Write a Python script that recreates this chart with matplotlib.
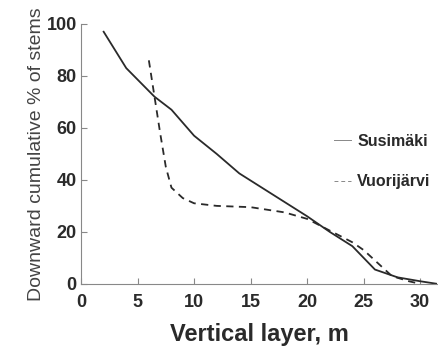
import numpy as np
import matplotlib.pyplot as plt

plt.rcParams['font.family'] = ['Liberation Sans', 'DejaVu Sans']

# Susimäki (solid)
sus_x = [2, 4, 6.5, 8, 10, 12, 14, 16, 18, 20, 22, 24, 26, 28, 30, 31.5]
sus_y = [97, 83, 72, 67, 57, 50, 42.5, 37, 31.5, 26, 20, 14.5, 5.5, 2.5, 1, 0]

# Vuorijärvi (dashed)
vuo_x = [6, 6.5, 7, 7.5, 8, 9, 10, 12, 15, 18, 20, 22, 24, 25, 26, 27.5, 29, 30]
vuo_y = [86, 72, 58, 45, 37, 33, 31, 30, 29.5, 27.5, 25, 20.5, 16, 13, 9, 3, 1, 0]

ink = '#2a2a2a'
fig = plt.figure(figsize=(4.38, 3.47), dpi=100)
ax = fig.add_axes([0.185, 0.182, 0.813, 0.749])

ax.plot(sus_x, sus_y, color=ink, lw=1.3, label='Susimäki')
ax.plot(vuo_x, vuo_y, color=ink, lw=1.3, ls=(0, (4, 3)), label='Vuorijärvi')

ax.set_xlim(0, 31.5)
ax.set_ylim(0, 100)
ax.set_xticks([0, 5, 10, 15, 20, 25, 30])
ax.set_yticks([0, 20, 40, 60, 80, 100])
ax.tick_params(direction='in', length=4, width=0.8, color='#888888',
               labelsize=13, labelcolor=ink)
ax.tick_params(axis='x', pad=7)
ax.tick_params(axis='y', pad=3)
for lab in ax.get_xticklabels() + ax.get_yticklabels():
    lab.set_fontweight('bold')
for s in ['top', 'right']:
    ax.spines[s].set_visible(False)
for s in ['left', 'bottom']:
    ax.spines[s].set_color('#888888')
    ax.spines[s].set_linewidth(0.8)

ax.set_xlabel('Vertical layer, m', fontsize=17, fontweight='bold', color=ink, labelpad=9)
ax.set_ylabel('Downward cumulative % of stems', fontsize=14, color='#444444', labelpad=1)

leg = ax.legend(loc='center left', bbox_to_anchor=(0.71, 0.47), frameon=False,
                borderpad=0, borderaxespad=0,
                handlelength=1.1, handletextpad=0.35, labelspacing=1.6,
                prop={'weight': 'bold', 'size': 11.5})
for t in leg.get_texts():
    t.set_color(ink)
for h in leg.get_lines():
    h.set_linewidth(0.7)
    h.set_color('#888888')

plt.savefig('out.png', dpi=100)
